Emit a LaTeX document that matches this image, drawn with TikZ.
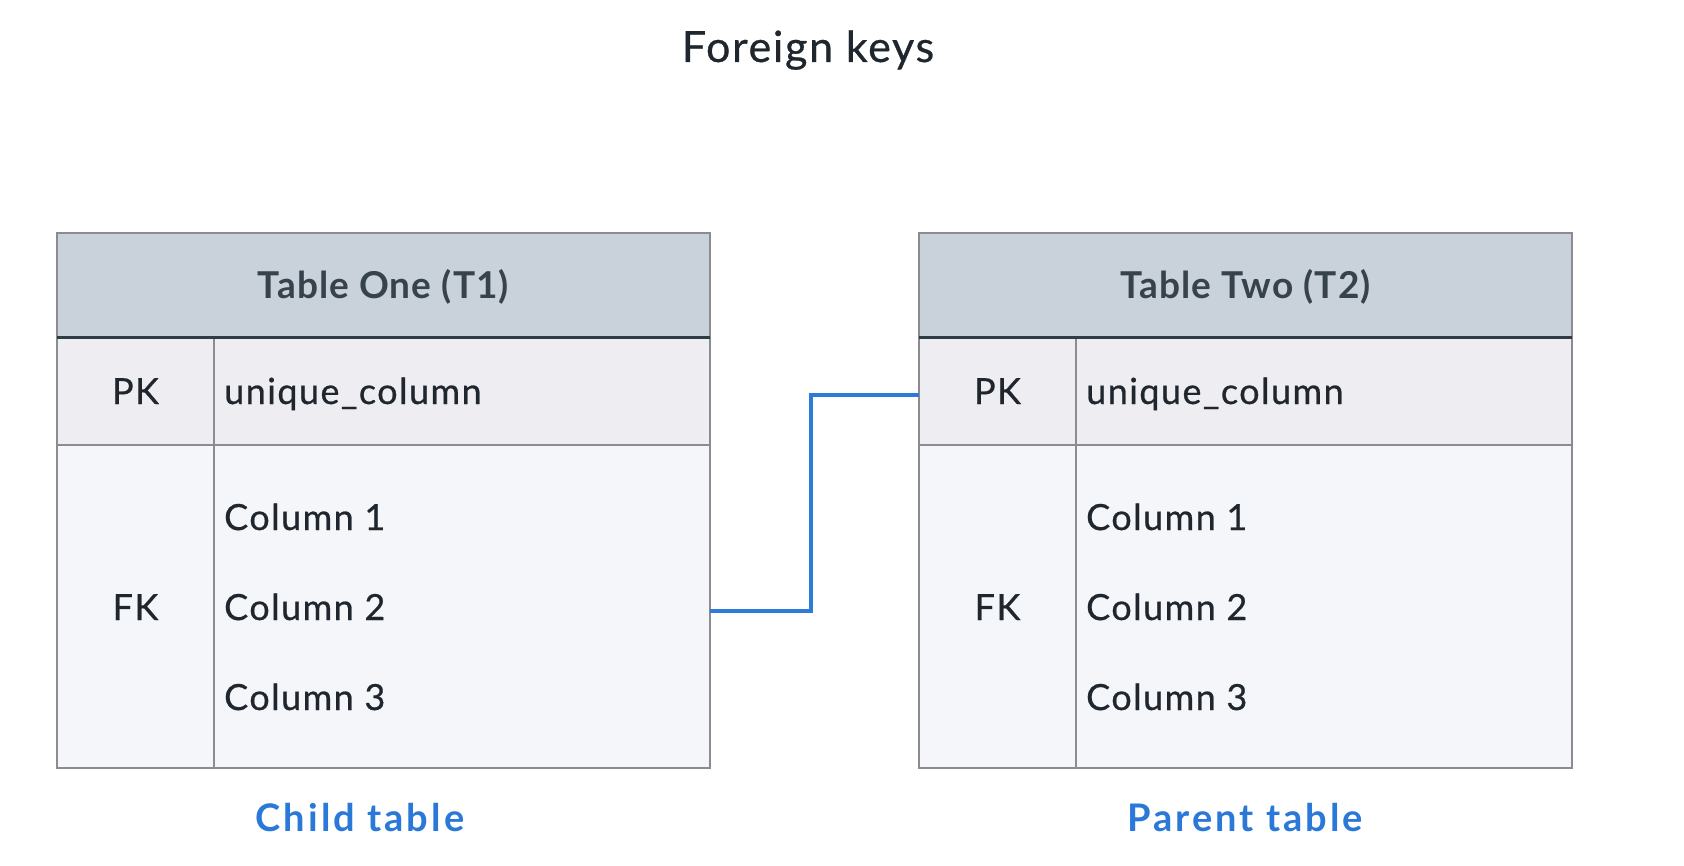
\documentclass[tikz,border=0pt]{standalone}
\usepackage{fontspec}
\setmainfont{Lato}
\newfontfamily\bodyfont{Lato}[LetterSpace=4,FakeBold=0.6]
\newfontfamily\hdrfont{Lato}[LetterSpace=3]
\newfontfamily\lblfont{Lato}[LetterSpace=8]
\definecolor{hdrfill}{HTML}{C9D1DA}
\definecolor{hdrtxt}{HTML}{36424C}
\definecolor{pkfill}{HTML}{EDEDF2}
\definecolor{fkfill}{HTML}{F5F6FA}
\definecolor{gridc}{HTML}{8C8C90}
\definecolor{darkline}{HTML}{2F3B45}
\definecolor{bodytxt}{HTML}{1F262D}
\definecolor{linkblue}{HTML}{2E7AD8}
\definecolor{lblblue}{HTML}{2A78D8}
\newcommand\drawdbtable[3]{%
  \node[hdr, anchor=north west] (#1head) at (#2,233) {};
  \node[pkrow, anchor=north west] (#1pk) at (#2,338) {};
  \node[fkrow, anchor=north west] (#1fk) at (#2,445) {};
  \draw[gridline] (#2+157,338) -- (#2+157,768);
  \draw[thickline] (#1head.south west) -- (#1head.south east);
  \node[hdrtext] (#1title) at (#2+326.5,299) {#3};
  \node[keytext] (#1pkl) at (#2+78.5,404) {PK};
  \node[keytext] (#1fkl) at (#2+78.5,620) {FK};
  \node[coltext] (#1uc) at (#2+167,404) {unique\_column};
  \node[coltext] (#1ca) at (#2+167,530) {Column 1};
  \node[coltext] (#1cb) at (#2+167,620) {Column 2};
  \node[coltext] (#1cc) at (#2+167,710) {Column 3};
}
\begin{document}
\begin{tikzpicture}[x=1pt,y=-1pt,
  cell/.style={draw=gridc, line width=2pt, inner sep=0pt, outer sep=0pt, minimum width=653pt},
  hdr/.style={cell, fill=hdrfill, minimum height=105pt},
  pkrow/.style={cell, fill=pkfill, minimum height=107pt},
  fkrow/.style={cell, fill=fkfill, minimum height=323pt},
  gridline/.style={draw=gridc, line width=1.6pt},
  thickline/.style={draw=darkline, line width=3pt},
  hdrtext/.style={anchor=base, inner sep=0pt, text=hdrtxt, font=\hdrfont\fontsize{37}{40}\selectfont\bfseries},
  keytext/.style={anchor=base, inner sep=0pt, text=bodytxt, font=\bodyfont\fontsize{36}{40}\selectfont},
  coltext/.style={anchor=base west, inner sep=0pt, text=bodytxt, font=\bodyfont\fontsize{36}{40}\selectfont},
  lbltext/.style={anchor=base, inner sep=0pt, text=lblblue, font=\lblfont\fontsize{38}{42}\selectfont\bfseries},
  link/.style={draw=linkblue, line width=3.2pt}
]
\useasboundingbox[fill=white] (0,0) rectangle (1684,866);
\node[anchor=base, inner sep=0pt, text=bodytxt, font=\bodyfont\fontsize{43}{46}\selectfont] (title) at (808,62) {Foreign keys};
\drawdbtable{ta}{57}{Table One (T1)}
\drawdbtable{tb}{919}{Table Two (T2)}
\node[lbltext] (child) at (360,831) {Child table};
\node[lbltext] (parent) at (1245,831) {Parent table};
\draw[link] ([yshift=-4.5pt]tafk.east) -- ++(101,0) |- ([yshift=-3.5pt]tbpk.west);
\end{tikzpicture}
\end{document}
